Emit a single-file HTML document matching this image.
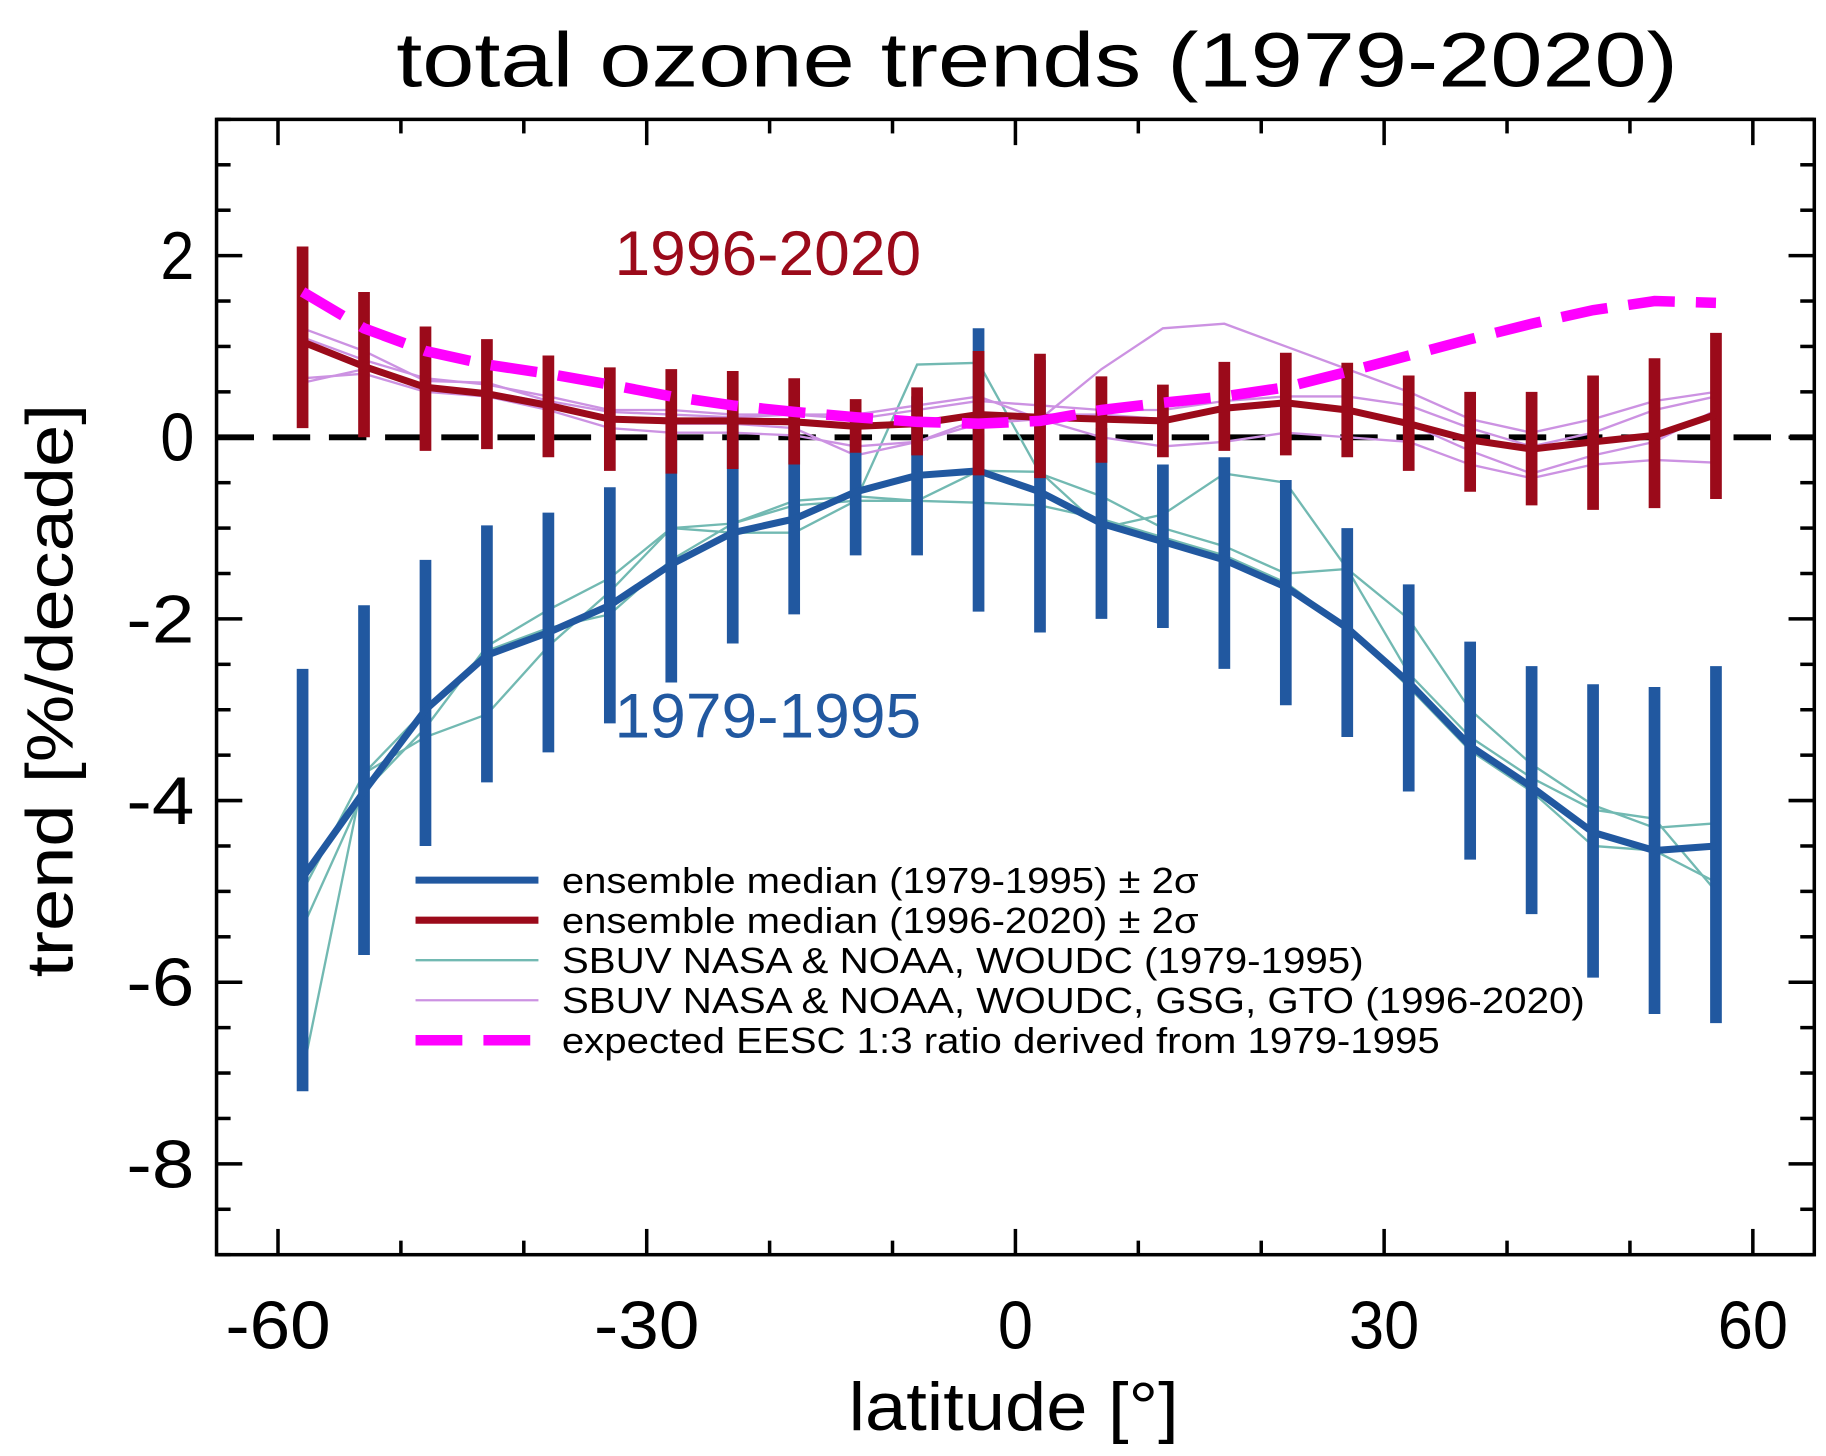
<!DOCTYPE html>
<html><head><meta charset="utf-8"><style>
html,body{margin:0;padding:0;background:#fff}
svg{display:block}
text{font-family:"Liberation Sans",sans-serif}
</style></head><body>
<svg id="chart" width="1826" height="1456" viewBox="0 0 1560 1244" preserveAspectRatio="none" xmlns="http://www.w3.org/2000/svg">
<text x="886" y="74" font-size="66" text-anchor="middle" textLength="1095" lengthAdjust="spacingAndGlyphs">total ozone trends (1979-2020)</text>
<g id="plot"></g>
<text x="866" y="1222" font-size="58" text-anchor="middle" textLength="282" lengthAdjust="spacingAndGlyphs">latitude [°]</text>
<text transform="translate(62,590) rotate(-90)" font-size="56" text-anchor="middle" textLength="490" lengthAdjust="spacingAndGlyphs">trend [%/decade]</text>
<text x="525" y="235" font-size="54" fill="#9b0a1a" textLength="262" lengthAdjust="spacingAndGlyphs">1996-2020</text>
<text x="525" y="630" font-size="54" fill="#2158a0" textLength="262" lengthAdjust="spacingAndGlyphs">1979-1995</text>
</svg>
<script>
const lats = [-58,-53,-48,-43,-38,-33,-28,-23,-18,-13,-8,-3,2,7,12,17,22,27,32,37,42,47,52,57];
const blueMedian = [-4.85,-3.9,-3.0,-2.4,-2.15,-1.85,-1.4,-1.05,-0.9,-0.6,-0.42,-0.37,-0.6,-0.95,-1.15,-1.35,-1.65,-2.1,-2.7,-3.4,-3.85,-4.35,-4.55,-4.5];
const blueHigh = [-2.55,-1.85,-1.35,-0.97,-0.83,-0.55,0,0.2,0.2,0,0.45,1.2,0.85,0.1,-0.3,-0.22,-0.47,-1.0,-1.62,-2.25,-2.52,-2.72,-2.75,-2.52];
const blueLow = [-7.2,-5.7,-4.5,-3.8,-3.47,-3.15,-2.7,-2.27,-1.95,-1.3,-1.3,-1.92,-2.15,-2.0,-2.1,-2.55,-2.95,-3.3,-3.9,-4.65,-5.25,-5.95,-6.35,-6.45];
const redMedian = [1.05,0.78,0.55,0.48,0.35,0.2,0.18,0.18,0.17,0.12,0.15,0.25,0.22,0.2,0.18,0.32,0.38,0.3,0.15,-0.03,-0.13,-0.05,0.02,0.25];
const redHigh = [2.1,1.6,1.22,1.08,0.9,0.77,0.75,0.73,0.65,0.42,0.55,0.95,0.92,0.67,0.58,0.83,0.93,0.82,0.68,0.5,0.5,0.68,0.87,1.15];
const redLow = [0.1,0,-0.15,-0.13,-0.22,-0.37,-0.4,-0.35,-0.3,-0.17,-0.2,-0.42,-0.45,-0.28,-0.22,-0.15,-0.2,-0.22,-0.37,-0.6,-0.75,-0.8,-0.78,-0.68];
const eesc = [1.6,1.2,0.95,0.8,0.7,0.58,0.45,0.35,0.28,0.22,0.17,0.15,0.18,0.3,0.38,0.45,0.55,0.72,0.9,1.08,1.25,1.4,1.5,1.48];
const teal1 = [-7.0,-3.7,-3.3,-3.05,-2.3,-1.7,-1.0,-1.05,-1.05,-0.7,0.8,0.82,-0.4,-0.65,-1.0,-1.2,-1.5,-1.45,-2.6,-3.3,-3.75,-4.1,-4.2,-5.0];
const teal2 = [-5.4,-3.9,-3.2,-2.3,-1.9,-1.55,-1.0,-0.95,-0.7,-0.65,-0.7,-0.37,-0.38,-1.0,-0.85,-0.4,-0.5,-1.45,-2.0,-3.0,-3.6,-4.05,-4.3,-4.25];
const teal3 = [-5.0,-3.7,-3.0,-2.35,-2.1,-1.95,-1.35,-0.95,-0.75,-0.7,-0.7,-0.72,-0.75,-0.9,-1.1,-1.3,-1.6,-2.1,-2.75,-3.45,-3.9,-4.5,-4.55,-4.9];
const purple1 = [1.2,0.95,0.62,0.6,0.4,0.28,0.25,0.22,0.25,0.25,0.35,0.45,0.2,0.75,1.2,1.25,1.0,0.75,0.5,0.2,0.05,0.2,0.4,0.5];
const purple2 = [1.1,0.85,0.65,0.58,0.45,0.3,0.3,0.25,0.25,0.2,0.3,0.4,0.35,0.3,0.3,0.4,0.45,0.45,0.35,0.1,-0.1,0.05,0.3,0.45];
const purple3 = [0.65,0.7,0.5,0.45,0.3,0.1,0.05,0.05,0.02,-0.1,-0.05,0.2,0.25,0.25,0.2,0.3,0.35,0.3,0.15,-0.15,-0.4,-0.2,-0.05,0.3];
const purple4 = [0.6,0.75,0.55,0.5,0.38,0.2,0.15,0.15,0.1,-0.2,-0.05,0.15,0.2,0.0,-0.1,-0.05,0.05,0.0,-0.05,-0.3,-0.45,-0.3,-0.25,-0.28];
const xTickLabels = [-60,-30,0,30,60];
const yTickLabels = [2,0,-2,-4,-6,-8];

const L=185,R=1550,T=102,B=1072, XMIN=-65,XMAX=65,YMIN=-9,YMAX=3.5;
function sx(v){return L+(v-XMIN)/(XMAX-XMIN)*(R-L);}
function sy(v){return B-(v-YMIN)/(YMAX-YMIN)*(B-T);}
const NS="http://www.w3.org/2000/svg";
const g=document.getElementById('plot');
function mk(tag,attrs,parent){const e=document.createElementNS(NS,tag);for(const k in attrs)e.setAttribute(k,attrs[k]);(parent||g).appendChild(e);return e;}
function pts(arr){return arr.map((v,i)=>sx(lats[i]).toFixed(1)+','+sy(v).toFixed(1)).join(' ');}

let z=mk('line',{x1:L,x2:R,y1:sy(0),y2:sy(0),stroke:'#000','stroke-width':5,'stroke-dasharray':'32,16'});



[teal1,teal2,teal3].forEach((a,k)=>{const p=mk('polyline',{points:pts(a),fill:'none',stroke:'#72b9b2','stroke-width':2});

});
[purple1,purple2,purple3,purple4].forEach((a,k)=>{const p=mk('polyline',{points:pts(a),fill:'none',stroke:'#cc92e2','stroke-width':2});

});

lats.forEach((lat,i)=>{const e=mk('line',{x1:sx(lat),x2:sx(lat),y1:sy(blueHigh[i]),y2:sy(blueLow[i]),stroke:'#2158a0','stroke-width':10});

});
let bm=mk('polyline',{points:pts(blueMedian),fill:'none',stroke:'#2158a0','stroke-width':6});



lats.forEach((lat,i)=>{const e=mk('line',{x1:sx(lat),x2:sx(lat),y1:sy(redHigh[i]),y2:sy(redLow[i]),stroke:'#9b0a1a','stroke-width':10});

});
let rm=mk('polyline',{points:pts(redMedian),fill:'none',stroke:'#9b0a1a','stroke-width':6});



let ee=mk('polyline',{points:pts(eesc),fill:'none',stroke:'#ff00ff','stroke-width':9,'stroke-dasharray':'40,18'});



let fr=mk('rect',{x:L,y:T,width:R-L,height:B-T,fill:'none',stroke:'#000','stroke-width':3});


for(let v=-9;v<=3.5001;v+=0.5){const major=Math.abs(v%2)<1e-6;const len=major?22:12;
mk('line',{x1:L,x2:L+len,y1:sy(v),y2:sy(v),stroke:'#000','stroke-width':3});
mk('line',{x1:R,x2:R-len,y1:sy(v),y2:sy(v),stroke:'#000','stroke-width':3});}
for(let v=-60;v<=60;v+=10){const major=v%30===0;const len=major?22:12;
mk('line',{x1:sx(v),x2:sx(v),y1:B,y2:B-len,stroke:'#000','stroke-width':3});
mk('line',{x1:sx(v),x2:sx(v),y1:T,y2:T+len,stroke:'#000','stroke-width':3});}
yTickLabels.forEach(v=>{const s=String(v);const t=mk('text',{x:166,y:sy(v)+20,'font-size':58,'text-anchor':'end',textLength:s.length*29,lengthAdjust:'spacingAndGlyphs'});t.textContent=s;

});
xTickLabels.forEach(v=>{const s=String(v);const t=mk('text',{x:sx(v),y:1152,'font-size':58,'text-anchor':'middle',textLength:s.length*30,lengthAdjust:'spacingAndGlyphs'});t.textContent=s;

});

const legendLabels=['ensemble median (1979-1995) ± 2σ','ensemble median (1996-2020) ± 2σ','SBUV NASA & NOAA, WOUDC (1979-1995)','SBUV NASA & NOAA, WOUDC, GSG, GTO (1996-2020)','expected EESC 1:3 ratio derived from 1979-1995'];
const legendColors=['#2158a0','#9b0a1a','#72b9b2','#cc92e2','#ff00ff'];
const legendWidths=[6,6,2,2,9];
const legendTextLen=[544,544,685,874,750];
const lg=mk('g',{});


legendLabels.forEach((lab,i)=>{const y=752+i*34.2;
const ln=mk('line',{x1:355,x2:460,y1:y,y2:y,stroke:legendColors[i],'stroke-width':legendWidths[i]},lg);
if(i===4)ln.setAttribute('stroke-dasharray','40,18');


const t=mk('text',{x:480,y:y+11,'font-size':31,textLength:legendTextLen[i],lengthAdjust:'spacingAndGlyphs'},lg);t.textContent=lab;

});
</script>
</body></html>
